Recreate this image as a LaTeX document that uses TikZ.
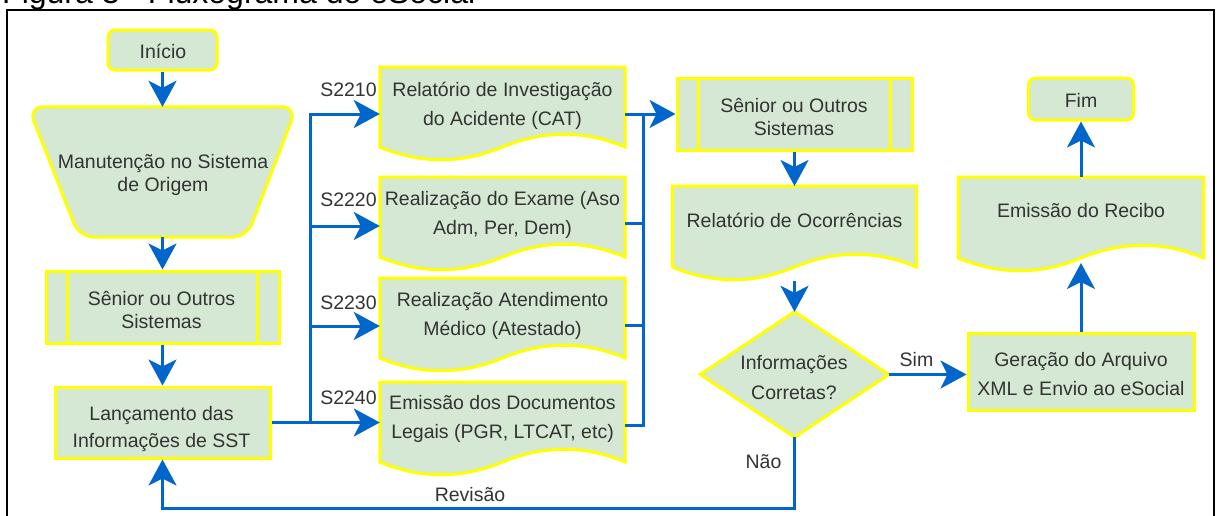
\documentclass[tikz,border=0pt]{standalone}
\usepackage{fontspec}
\setmainfont{Liberation Sans}
\usetikzlibrary{arrows.meta,calc,backgrounds}
\definecolor{fillg}{HTML}{D5E8D4}
\definecolor{ylw}{HTML}{FFFF00}
\definecolor{blu}{HTML}{0066CC}
\definecolor{txtc}{HTML}{333333}
\newcommand\sr{\rule[-4.5pt]{0pt}{18pt}}
\newcommand\docshape[2]{%
  \draw[shp] (#1.north west) -- (#1.north east) -- ($(#1.north east)+(0,#2)$)
    .. controls +(-40.8,-17) and +(40.8,-17) .. ($(#1.north)+(0,#2)$)
    .. controls +(-40.8,17) and +(40.8,17) .. ($(#1.north west)+(0,#2)$) -- cycle;}
\begin{document}
\begin{tikzpicture}[x=1pt,y=-1pt,
  shp/.style={draw=ylw, fill=fillg, line width=3pt},
  box/.style={shp, inner sep=0pt, rectangle},
  ghost/.style={inner sep=0pt, draw=none},
  txt/.style={text=txtc, align=center, inner sep=0pt, font=\fontsize{19.5}{#1}\selectfont},
  txt/.default=29,
  lbl/.style={text=txtc, inner sep=0pt, font=\fontsize{19.5}{23}\selectfont, text height=18pt, text depth=4.5pt},
  conn/.style={draw=blu, line width=3pt},
  trunk/.style={conn, line cap=rect},
  arr/.style={conn, -{Stealth[length=26pt,width=28pt,inset=7pt]}}]
\useasboundingbox (0,0) rectangle (1219,515);
\clip (0,0) rectangle (1219,515);
% caption (cut off at the top)
\node[anchor=base west, inner sep=0pt, font=\fontsize{32}{38}\selectfont] (cap) at (2,3) {Figura 3 - Fluxograma do eSocial};
\draw[line width=2pt] (7,10) rectangle (1214,560);

% left column
\node[box, rounded corners=7pt, minimum width=109pt, minimum height=40pt] (inicio) at (162.5,50) {};
\node[lbl] (tinicio) at (163,51.5) {Início};

\node[ghost, minimum width=268pt, minimum height=130pt] (man) at (162.5,172) {};
\node[txt=23] (tman) at (163,175) {\sr Manutenção no Sistema\\\sr de Origem};

\node[box, minimum width=233pt, minimum height=72pt] (sen1) at (162.5,307) {};
\draw[shp, fill=none] ($(sen1.north west)+(23,0)$) -- ($(sen1.south west)+(23,0)$);
\draw[shp, fill=none] ($(sen1.north east)+(-23,0)$) -- ($(sen1.south east)+(-23,0)$);
\node[txt=23.7] (tsen1) at (161.5,312) {\sr Sênior ou Outros\\\sr Sistemas};

\node[box, minimum width=215pt, minimum height=71pt] (lanc) at (162.5,422.5) {};
\node[txt=27] (tlanc) at (161.5,429) {\sr Lançamento das\\\sr Informações de SST};

% documents column
\node[ghost, txt, minimum width=245pt, minimum height=77pt, anchor=north] (d1) at (502.5,67) {\sr Relatório de Investigação\\\sr do Acidente (CAT)};
\node[ghost, txt, minimum width=245pt, minimum height=75pt, anchor=north] (d2) at (502.5,177) {\sr Realização do Exame (Aso\\\sr Adm, Per, Dem)};
\node[ghost, txt, minimum width=245pt, minimum height=76pt, anchor=north] (d3) at (502.5,278) {\sr Realização Atendimento\\\sr Médico (Atestado)};
\node[ghost, txt, minimum width=245pt, minimum height=74pt, anchor=north] (d4) at (502.5,382) {\sr Emissão dos Documentos\\\sr Legais (PGR, LTCAT, etc)};

% middle column
\node[box, minimum width=235pt, minimum height=72pt] (sen2) at (794.5,114) {};
\draw[shp, fill=none] ($(sen2.north west)+(23,0)$) -- ($(sen2.south west)+(23,0)$);
\draw[shp, fill=none] ($(sen2.north east)+(-23,0)$) -- ($(sen2.south east)+(-23,0)$);
\node[txt=22.7] (tsen2) at (794,119) {\sr Sênior ou Outros\\\sr Sistemas};

\node[ghost, txt, minimum width=244pt, minimum height=72pt, anchor=north] (ocor) at (794.5,186) {\sr Relatório de Ocorrências};

\node[ghost, minimum width=188pt, minimum height=125pt] (dia) at (794.5,374.5) {};
\node[txt=30] (tdia) at (794,380) {\sr Informações\\\sr Corretas?};

% right column
\node[box, minimum width=226pt, minimum height=77pt] (ger) at (1081,371.5) {};
\node[txt=29] (tger) at (1081,376.5) {\sr Geração do Arquivo\\\sr XML e Envio ao eSocial};

\node[ghost, txt, minimum width=245pt, minimum height=70pt, anchor=north] (rec) at (1081,177) {\sr Emissão do Recibo};

\node[box, rounded corners=7pt, minimum width=105pt, minimum height=42pt] (fim) at (1081,99) {};
\node[lbl] (tfim) at (1081,101) {Fim};

% shapes drawn behind their texts
\begin{scope}[on background layer]
  \draw[shp, rounded corners=15pt] (man.north west) -- (man.north east)
     -- ($(man.south east)+(-50,0)$) -- ($(man.south west)+(51,0)$) -- cycle;
  \docshape{d1}{80}
  \docshape{d2}{80}
  \docshape{d3}{80}
  \docshape{d4}{80}
  \docshape{ocor}{81}
  \docshape{rec}{81}
  \draw[shp] (dia.north) -- (dia.east) -- (dia.south) -- (dia.west) -- cycle;
\end{scope}

% junction points
\coordinate (tA) at (310,114);
\coordinate (tB) at (310,226);
\coordinate (tC) at (310,326);
\coordinate (tD) at (310,422.5);
\coordinate (jA) at (643,114);
\coordinate (jB) at (643,223);
\coordinate (jC) at (643,325);
\coordinate (jD) at (643,425);
\coordinate (ocB) at ($(ocor.north)+(0,95)$);
\coordinate (recB) at ($(rec.north)+(0,86)$);
\coordinate (rv) at (0,508);

% connectors
\draw[arr] (inicio.south) -- (man.north);
\draw[arr] (man.south) -- (sen1.north);
\draw[arr] (sen1.south) -- (lanc.north);
\draw[trunk] (tD) -- (tA);
\draw[arr] (lanc.east) -- (lanc.east -| d4.west);
\draw[arr] (tA) -- (tA -| d1.west);
\draw[arr] (tB) -- (tB -| d2.west);
\draw[arr] (tC) -- (tC -| d3.west);
\draw[trunk] (jD) -- (jA);
\draw[arr] (jA -| d1.east) -- (sen2.west);
\draw[conn] (jB -| d2.east) -- (jB);
\draw[conn] (jC -| d3.east) -- (jC);
\draw[conn] (jD -| d4.east) -- (jD);
\draw[arr] (sen2.south) -- (ocor.north);
\draw[arr] (ocB) -- (dia.north);
\draw[arr] (dia.east) -- (dia.east -| ger.west);
\draw[arr] (ger.north) -- (recB);
\draw[arr] (rec.north) -- (fim.south);
\draw[arr] (dia.south) -- (dia.south |- rv) -| (lanc.south);

% labels
\node[lbl] (l1) at (348.5,89.5) {S2210};
\node[lbl] (l2) at (348.5,200) {S2220};
\node[lbl] (l3) at (348.5,302.5) {S2230};
\node[lbl] (l4) at (348.5,397.5) {S2240};
\node[lbl] (lsim) at (916.5,359.5) {Sim};
\node[lbl] (lnao) at (763.5,462) {Não};
\node[lbl] (lrev) at (470,494.5) {Revisão};
\end{tikzpicture}
\end{document}
